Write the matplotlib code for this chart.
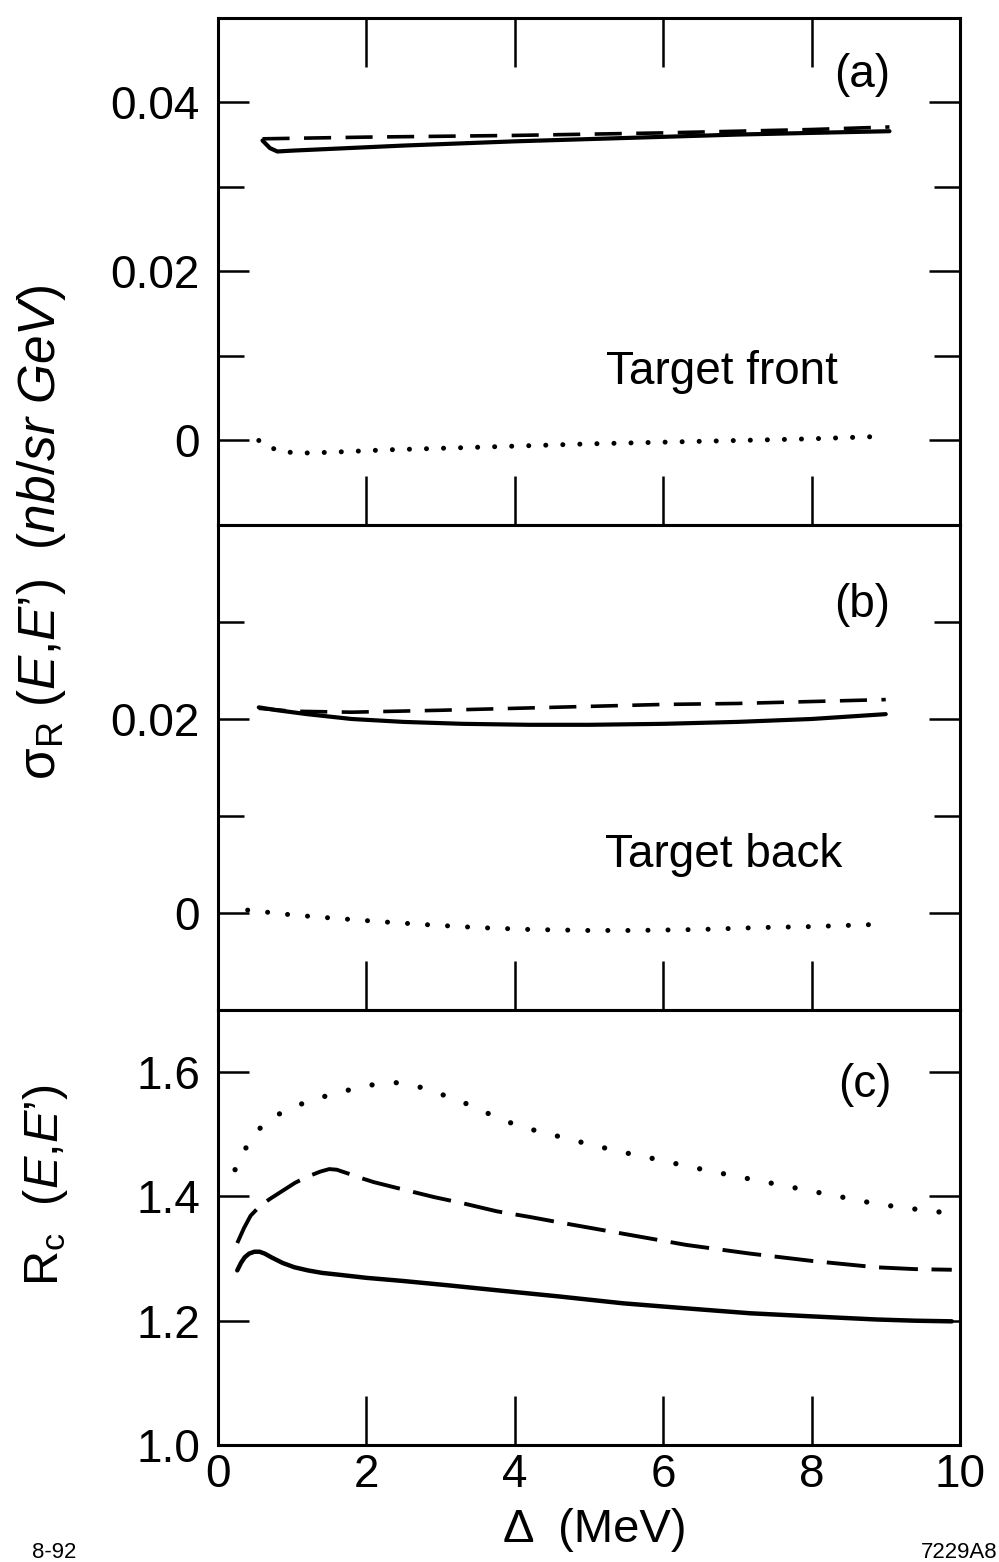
import matplotlib
matplotlib.use("Agg")
import matplotlib.pyplot as plt
from matplotlib.ticker import FixedLocator, NullFormatter

plt.rcParams['font.family'] = ['Liberation Sans', 'DejaVu Sans']
plt.rcParams['mathtext.fontset'] = 'custom'
plt.rcParams['mathtext.rm'] = 'Liberation Sans'
plt.rcParams['mathtext.it'] = 'Liberation Sans:italic'
plt.rcParams['mathtext.bf'] = 'Liberation Sans:bold'

# ---- panel (a): target front, sigma_R (nb/sr GeV) ----
xa_solid = [0.6, 0.7, 0.8, 1.0, 1.5, 2.5, 4.0, 5.5, 7.0, 8.0, 9.05]
ya_solid = [0.0355, 0.0346, 0.0342, 0.0343, 0.0345, 0.0349, 0.0354, 0.0358, 0.0362, 0.0364, 0.0366]
xa_dash = [0.6, 2.0, 4.0, 6.0, 8.0, 9.05]
ya_dash = [0.0357, 0.0359, 0.0361, 0.0364, 0.0368, 0.0371]
xa_dot = [0.55, 0.7, 0.85, 1.1, 1.5, 2.3, 3.5, 5.0, 6.5, 8.0, 9.0]
ya_dot = [0.0, -0.0008, -0.0013, -0.0015, -0.0014, -0.0011, -0.0008, -0.0004, -0.0001, 0.0002, 0.0005]

# ---- panel (b): target back ----
xb_solid = [0.55, 0.8, 1.2, 1.8, 2.5, 3.3, 4.2, 5.0, 6.0, 7.0, 8.0, 9.0]
yb_solid = [0.0212, 0.0209, 0.0205, 0.0200, 0.0197, 0.0195, 0.0194, 0.0194, 0.0195, 0.0197, 0.0200, 0.0205]
xb_dash = [0.55, 1.0, 1.8, 3.0, 4.0, 5.0, 6.0, 7.0, 8.0, 9.0]
yb_dash = [0.0211, 0.0208, 0.0207, 0.0209, 0.0211, 0.0213, 0.0215, 0.0216, 0.0218, 0.0220]
xb_dot = [0.4, 1.0, 1.5, 2.2, 2.8, 3.5, 4.2, 5.0, 5.6, 6.5, 7.3, 8.0, 8.8]
yb_dot = [0.0003, -0.0002, -0.0005, -0.0009, -0.0012, -0.0015, -0.0017, -0.0018, -0.0018, -0.0017, -0.0015, -0.0014, -0.0012]

# ---- panel (c): ratio R_c ----
xc_solid = [0.26, 0.31, 0.36, 0.42, 0.49, 0.56, 0.63, 0.72, 0.87, 1.03, 1.21, 1.40, 1.63, 2.0, 2.49,
            3.1, 3.76, 4.6, 5.46, 6.3, 7.17, 8.0, 8.87, 9.4, 9.89]
yc_solid = [1.281, 1.293, 1.302, 1.308, 1.311, 1.311, 1.308, 1.302, 1.293, 1.286, 1.281, 1.277, 1.274,
            1.269, 1.264, 1.257, 1.249, 1.239, 1.228, 1.220, 1.212, 1.207, 1.202, 1.200, 1.199]
xc_dash = [0.26, 0.35, 0.44, 0.56, 0.70, 0.87, 1.04, 1.21, 1.38, 1.50, 1.60, 1.75, 1.89, 2.1, 2.4, 2.91,
           3.3, 3.76, 4.2, 4.61, 5.46, 6.31, 7.17, 8.02, 8.87, 9.4, 9.89]
yc_dash = [1.325, 1.349, 1.369, 1.384, 1.396, 1.409, 1.422, 1.432, 1.440, 1.444, 1.443, 1.437, 1.431,
           1.423, 1.414, 1.399, 1.389, 1.376, 1.367, 1.358, 1.340, 1.322, 1.308, 1.296, 1.286, 1.283, 1.282]
xc_dot = [0.23, 0.30, 0.36, 0.48, 0.61, 0.78, 0.95, 1.15, 1.38, 1.62, 1.89, 2.05, 2.23, 2.4, 2.57, 2.75,
          2.91, 3.15, 3.42, 3.65, 3.93, 4.25, 4.61, 5.0, 5.46, 5.9, 6.31, 6.75, 7.17, 7.6, 8.02, 8.45,
          8.87, 9.3, 9.72]
yc_dot = [1.443, 1.461, 1.475, 1.497, 1.516, 1.530, 1.540, 1.550, 1.559, 1.567, 1.575, 1.579, 1.582,
          1.583, 1.580, 1.575, 1.569, 1.558, 1.546, 1.533, 1.519, 1.507, 1.496, 1.484, 1.471, 1.460,
          1.449, 1.438, 1.428, 1.418, 1.408, 1.398, 1.388, 1.381, 1.375]

x_ticks = [0, 2, 4, 6, 8, 10]
x_ticklabels = ['0', '2', '4', '6', '8', '10']
ya_major = [0.0, 0.02, 0.04]
ya_minor = [0.01, 0.03]
ya_labels = ['0', '0.02', '0.04']
yb_major = [0.0, 0.02]
yb_minor = [0.01, 0.03]
yb_labels = ['0', '0.02']
yc_major = [1.0, 1.2, 1.4, 1.6]
yc_labels = ['1.0', '1.2', '1.4', '1.6']

W, H = 999, 1562
fig = plt.figure(figsize=(W / 100, H / 100), dpi=100)

left, width = 0.2182, 0.7427
ax_a = fig.add_axes([left, 0.6639, width, 0.3246])
ax_b = fig.add_axes([left, 0.3534, width, 0.3105])
ax_c = fig.add_axes([left, 0.0749, width, 0.2785])

LW = 3.0
TICK_FS = 33


def style_axes(ax, top_ticks):
    for sp in ax.spines.values():
        sp.set_linewidth(2.2)
    ax.set_xlim(0, 10)
    ax.set_xticks(x_ticks)
    ax.tick_params(axis='x', which='major', direction='in', length=35, width=1.8,
                   top=top_ticks, bottom=True, labelsize=TICK_FS, pad=6)
    ax.tick_params(axis='y', which='both', direction='in', width=1.8,
                   left=True, right=True, labelsize=TICK_FS, pad=13)
    ax.tick_params(axis='y', which='major', length=22)
    ax.tick_params(axis='y', which='minor', length=19)


def dotted(ax, x, y, gap=4.0, lw=3.6):
    ax.plot(x, y, color='black', lw=lw, linestyle=(0, (0.01, gap)),
            dash_capstyle='round', solid_capstyle='round')


# panel (a)
ax_a.plot(xa_solid, ya_solid, color='black', lw=LW, solid_capstyle='round')
ax_a.plot(xa_dash, ya_dash, color='black', lw=2.6, linestyle=(0, (7.5, 4)))
dotted(ax_a, xa_dot, ya_dot, gap=3.4)
ax_a.set_ylim(-0.01, 0.05)
ax_a.yaxis.set_major_locator(FixedLocator(ya_major))
ax_a.yaxis.set_minor_locator(FixedLocator(ya_minor))
ax_a.set_yticklabels(ya_labels)
ax_a.yaxis.set_minor_formatter(NullFormatter())
style_axes(ax_a, True)
ax_a.tick_params(axis='x', labelbottom=False)

# panel (b)
ax_b.plot(xb_solid, yb_solid, color='black', lw=LW, solid_capstyle='round')
ax_b.plot(xb_dash, yb_dash, color='black', lw=2.6, linestyle=(0, (7.5, 4)))
dotted(ax_b, xb_dot, yb_dot, gap=4.0)
ax_b.set_ylim(-0.01, 0.04)
ax_b.yaxis.set_major_locator(FixedLocator(yb_major))
ax_b.yaxis.set_minor_locator(FixedLocator(yb_minor))
ax_b.set_yticklabels(yb_labels)
ax_b.yaxis.set_minor_formatter(NullFormatter())
style_axes(ax_b, False)
ax_b.tick_params(axis='x', labelbottom=False)

# panel (c)
ax_c.plot(xc_solid, yc_solid, color='black', lw=3.2, solid_capstyle='round')
ax_c.plot(xc_dash, yc_dash, color='black', lw=2.8, linestyle=(0, (10, 3.5)))
dotted(ax_c, xc_dot, yc_dot, gap=4.6, lw=3.8)
ax_c.set_ylim(1.0, 1.7)
ax_c.yaxis.set_major_locator(FixedLocator(yc_major))
ax_c.set_yticklabels(yc_labels)
style_axes(ax_c, False)
ax_c.set_xticklabels(x_ticklabels)

# panel tags and target labels
TXT_FS = 33
fig.text(862 / W, 1 - 75 / H, '(a)', fontsize=TXT_FS, ha='center', va='center')
fig.text(862 / W, 1 - 605 / H, '(b)', fontsize=TXT_FS, ha='center', va='center')
fig.text(865 / W, 1 - 1085 / H, '(c)', fontsize=TXT_FS, ha='center', va='center')
fig.text(722 / W, 1 - 372 / H, 'Target front', fontsize=TXT_FS, ha='center', va='center')
fig.text(724 / W, 1 - 855 / H, 'Target back', fontsize=TXT_FS, ha='center', va='center')

# axis labels
fig.text(42 / W, 1 - 532 / H,
         '$\\mathrm{\\sigma_R}\\ \\mathit{(E{,}E\u2019)}\\ \\ \\mathit{(nb/sr\\ GeV)}$',
         fontsize=37, rotation=90, ha='center', va='center')
fig.text(45 / W, 1 - 1185 / H, '$\\mathrm{R_c}\\ \\ \\mathit{(E{,}E\u2019)}$',
         fontsize=35, rotation=90, ha='center', va='center')
fig.text(595 / W, 1 - 1530 / H, '\u0394  (MeV)', fontsize=34, ha='center', va='center')

# figure codes
fig.text(32 / W, 1 - 1553 / H, '8-92', fontsize=16, ha='left', va='center')
fig.text(997 / W, 1 - 1553 / H, '7229A8', fontsize=16, ha='right', va='center')

fig.savefig('out.png', dpi=100)
